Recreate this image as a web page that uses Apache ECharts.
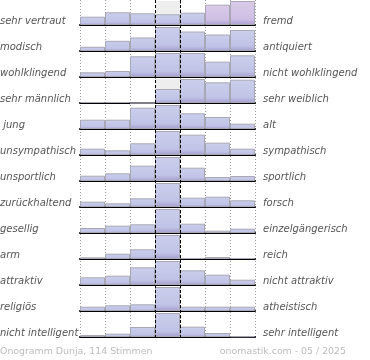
<!DOCTYPE html>
<html><head><meta charset="utf-8">
<script src="https://cdn.jsdelivr.net/npm/echarts@6/dist/echarts.min.js"></script>
<style>html,body{margin:0;padding:0;background:#fff}#c{width:370px;height:360px}</style>
</head><body><div id="c"></div>
<script>
var leftLabels = ['sehr vertraut','modisch','wohlklingend','sehr männlich',' jung','unsympathisch','unsportlich','zurückhaltend','gesellig','arm','attraktiv','religiös','nicht intelligent'];
var rightLabels = ['fremd','antiquiert','nicht wohlklingend','sehr weiblich','alt','sympathisch','sportlich','forsch','einzelgängerisch','reich','nicht attraktiv','atheistisch','sehr intelligent'];
var scale = ['1','2','3','4','5','6','7'];
var row01 = [8.3, 12.7, 11.7, 10.7, 12.3, 20.3, 24];
var row02 = [4.3, 10.3, 13.7, 24.3, 19.7, 16.7, 21.3];
var row03 = [4.7, 6, 20.7, 24, 24, 15.3, 21.7];
var row04 = [1, 1, 0, 14, 24, 20.7, 23.3];
var row05 = [9.3, 9.3, 21.3, 24, 15.7, 12, 5.3];
var row06 = [6.3, 4.7, 11.7, 24, 20.3, 12.3, 6.3];
var row07 = [5.3, 7.7, 15.3, 24, 13.3, 4, 5];
var row08 = [5.3, 3.7, 8.7, 24, 9.3, 10.3, 6.7];
var row09 = [5, 7.3, 8.7, 24, 9.3, 2.3, 4.3];
var row10 = [1.7, 5.3, 9.7, 24, 1, 2, 1];
var row11 = [7.7, 9.3, 17.7, 24, 14.7, 10.3, 5.3];
var row12 = [4.3, 5.7, 6.7, 24, 4.3, 4.3, 4.3];
var row13 = [2, 3.3, 10, 24, 10.3, 4, 0.7];
var rows = [row01,row02,row03,row04,row05,row06,row07,row08,row09,row10,row11,row12,row13];
var footerLeft = 'Onogramm Dunja, 114 Stimmen';
var footerRight = 'onomastik.com - 05 / 2025';

var lilac = [[0,5],[0,6]];
var GL = 80, GW = 175, RH = 26, CH = 24, TOP0 = 1;
var blue = new echarts.graphic.LinearGradient(0,0,0,1,[{offset:0,color:'#cbcfec'},{offset:0.75,color:'#c0c3e6'},{offset:1,color:'#a59dcf'}]);
var pink = new echarts.graphic.LinearGradient(0,0,0,1,[{offset:0,color:'#dccbe9'},{offset:0.75,color:'#cdbfe4'},{offset:1,color:'#ad9fd2'}]);

var grid=[], xAxis=[], yAxis=[], series=[], graphic=[];
rows.forEach(function(vals,i){
  var mx = Math.max.apply(null, vals);
  grid.push({left:GL, width:GW, top:TOP0+i*RH, height:CH});
  xAxis.push({type:'category', gridIndex:i, data:scale, boundaryGap:true,
    axisLine:{show:true, lineStyle:{color:'#000', width:2}}, axisTick:{show:false}, axisLabel:{show:false}, splitLine:{show:false}});
  yAxis.push({type:'value', gridIndex:i, min:0, max:mx, show:false, splitLine:{show:false}});
  series.push({type:'bar', xAxisIndex:i, yAxisIndex:i, z:1, silent:true, barWidth:'100%', barGap:'-100%',
    itemStyle:{color:'#eeeeee'},
    data: vals.map(function(v,j){return j===3?mx:0;})});
  series.push({type:'bar', xAxisIndex:i, yAxisIndex:i, z:2, barWidth:'100%', barGap:'-100%',
    itemStyle:{color:blue, borderColor:'#a8a8b4', borderWidth:1},
    data: vals.map(function(v,j){
      var isL = lilac.some(function(p){return p[0]===i&&p[1]===j;});
      return isL ? {value:v, itemStyle:{color:pink}} : v;
    })});
  var yc = TOP0 + i*RH + CH - 5;
  graphic.push({type:'text', left:0, top:yc-4, style:{text:leftLabels[i], font:'italic 10px "DejaVu Sans"', fill:'#555'}});
  graphic.push({type:'text', left:GL+GW+8, top:yc-4, style:{text:rightLabels[i], font:'italic 10px "DejaVu Sans"', fill:'#555'}});
});
// overlay grid for vertical separators
var oi = rows.length;
grid.push({left:GL, width:GW, top:0, height:TOP0+rows.length*RH-1});
xAxis.push({type:'value', gridIndex:oi, min:0, max:7, interval:1, axisLine:{show:false}, axisTick:{show:false}, axisLabel:{show:false},
  splitLine:{show:true, lineStyle:{color:'#999', width:1, type:[1,2]}}});
yAxis.push({type:'value', gridIndex:oi, min:0, max:1, show:false, splitLine:{show:false}});
series.push({type:'line', xAxisIndex:oi, yAxisIndex:oi, z:10, data:[[0,0]], showSymbol:false, lineStyle:{width:0}, silent:true,
  markLine:{silent:true, symbol:'none', label:{show:false}, lineStyle:{color:'#000', width:1, type:[3,2]},
    data:[{xAxis:3},{xAxis:4}]}});
graphic.push({type:'text', left:0, top:347, style:{text:footerLeft, font:'9.4px "DejaVu Sans"', fill:'#bbb'}});
graphic.push({type:'text', right:24, top:347, style:{text:footerRight, font:'9.4px "DejaVu Sans"', fill:'#bbb'}});

var chart = echarts.init(document.getElementById('c'), null, {renderer:'canvas'});
chart.setOption({animation:false, grid:grid, xAxis:xAxis, yAxis:yAxis, series:series, graphic:graphic});
</script></body></html>
